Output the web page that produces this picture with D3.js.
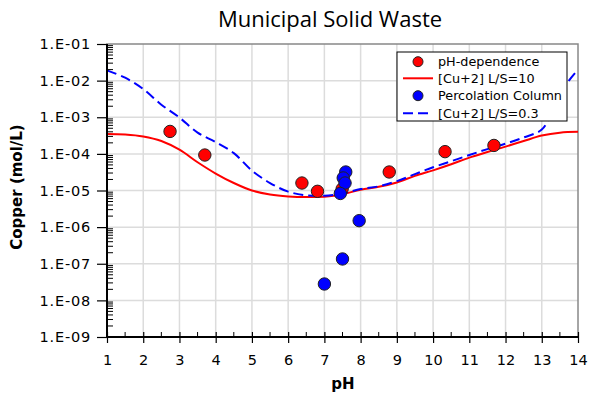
<!DOCTYPE html>
<html><head><meta charset="utf-8">
<script src="https://cdn.jsdelivr.net/npm/d3@7"></script>
<style>body{margin:0;background:#fff}svg{display:block}</style>
</head><body>
<script>
// ---- data ----
const phDepPH  = [2.74, 3.70, 6.38, 6.81, 7.49, 8.79, 10.33, 11.68];
const phDepCu  = [4.1e-4, 9.3e-5, 1.6e-5, 9.5e-6, 1.1e-5, 3.2e-5, 1.15e-4, 1.7e-4];
const percPH   = [7.59, 7.52, 7.57, 7.44, 7.96, 7.50, 7.00];
const percCu   = [3.2e-5, 2.2e-5, 1.6e-5, 8.3e-6, 1.5e-6, 1.35e-7, 2.8e-8];
const curvePH10 = [1, 1.5, 2, 2.5, 3, 3.5, 4, 4.5, 5, 5.5, 6, 6.5, 7, 7.5, 8, 8.5, 9, 9.5, 10, 10.5, 11, 11.5, 12, 12.5, 13, 13.5, 14];
const curveCu10 = [3.5e-4, 3.4e-4, 3.0e-4, 2.25e-4, 1.3e-4, 5.9e-5, 2.9e-5, 1.6e-5, 1.0e-5, 7.8e-6, 6.9e-6, 6.6e-6, 6.8e-6, 7.9e-6, 1.05e-5, 1.26e-5, 1.66e-5, 2.5e-5, 3.55e-5, 5.2e-5, 7.9e-5, 1.12e-4, 1.58e-4, 2.24e-4, 3.16e-4, 3.8e-4, 4.0e-4];
const curvePH03 = [1, 1.5, 2, 2.5, 3, 3.5, 4, 4.5, 5, 5.5, 6, 6.5, 7, 7.5, 8, 8.5, 9, 9.5, 10, 10.5, 11, 11.5, 12, 12.5, 13, 13.25, 13.5, 13.75, 14];
const curveCu03 = [1.9e-2, 1.2e-2, 5.9e-3, 2.2e-3, 9.8e-4, 3.8e-4, 2.1e-4, 1.05e-4, 3.5e-5, 1.6e-5, 9.3e-6, 7.4e-6, 7.2e-6, 8.3e-6, 1.1e-5, 1.3e-5, 1.8e-5, 2.8e-5, 4.3e-5, 6.3e-5, 9.3e-5, 1.35e-4, 1.9e-4, 2.8e-4, 4.6e-4, 1.2e-3, 3.8e-3, 1.0e-2, 2.0e-2];
const xTicks = [1,2,3,4,5,6,7,8,9,10,11,12,13,14];
const yTicks = [1e-9,1e-8,1e-7,1e-6,1e-5,1e-4,1e-3,1e-2,1e-1];
const yTickLabels = ["1.E-09","1.E-08","1.E-07","1.E-06","1.E-05","1.E-04","1.E-03","1.E-02","1.E-01"];
const legendLabels = ["pH-dependence","[Cu+2] L/S=10","Percolation Column","[Cu+2] L/S=0.3"];

// ---- layout ----
const W = 590, H = 400;
const L = 107, R = 578, T = 44, B = 337;
const font = "'DejaVu Sans', Verdana, sans-serif";

const svg = d3.select("body").append("svg").attr("width", W).attr("height", H);
const x = d3.scaleLinear().domain([1,14]).range([L,R]);
const y = d3.scaleLog().domain([1e-9,1e-1]).range([B,T]);

// grid
const g = svg.append("g");
g.selectAll(".vg").data(xTicks.slice(1,-1)).enter().append("line")
  .attr("x1", d=>x(d)).attr("x2", d=>x(d)).attr("y1", T).attr("y2", B)
  .attr("stroke", "#dcdcdc").attr("stroke-width", 1.5);
g.selectAll(".hg").data(yTicks.slice(1,-1)).enter().append("line")
  .attr("x1", L).attr("x2", R).attr("y1", d=>y(d)).attr("y2", d=>y(d))
  .attr("stroke", "#dcdcdc").attr("stroke-width", 1.5);
// plot border
svg.append("rect").attr("x", L).attr("y", T).attr("width", R-L).attr("height", B-T)
  .attr("fill", "none").attr("stroke", "#888").attr("stroke-width", 1.5);

// curves
const line = d3.line().x(d=>x(d[0])).y(d=>y(d[1])).curve(d3.curveCatmullRom.alpha(0.5));
const c10 = curvePH10.map((p,i)=>[p, curveCu10[i]]);
const c03 = curvePH03.map((p,i)=>[p, curveCu03[i]]);
svg.append("path").datum(c10).attr("d", line).attr("fill","none")
  .attr("stroke","#ff0000").attr("stroke-width",2);
svg.append("path").datum(c03).attr("d", line).attr("fill","none")
  .attr("stroke","#0000ff").attr("stroke-width",2).attr("stroke-dasharray","10,5");

// points
svg.selectAll(".pd").data(phDepPH.map((p,i)=>[p,phDepCu[i]])).enter().append("circle")
  .attr("cx", d=>x(d[0])).attr("cy", d=>y(d[1])).attr("r", 6.2)
  .attr("fill","#ff0000").attr("stroke","#222").attr("stroke-width",1);
svg.selectAll(".pc").data(percPH.map((p,i)=>[p,percCu[i]])).enter().append("circle")
  .attr("cx", d=>x(d[0])).attr("cy", d=>y(d[1])).attr("r", 6.2)
  .attr("fill","#0000ff").attr("stroke","#222").attr("stroke-width",1);

// axes
const yAxis = d3.axisLeft(y).tickValues(yTicks).tickFormat((d,i)=>yTickLabels[i]).tickSize(10).tickPadding(6);
const ya = svg.append("g").attr("transform", `translate(${L},0)`).call(yAxis);
ya.select(".domain").remove();
ya.selectAll(".tick line").attr("stroke","#000").attr("stroke-width",1.2);
ya.selectAll("text").attr("font-family", font).attr("font-size", 14.5).attr("fill","#000").attr("letter-spacing", 0.8);
// y minor ticks inside
const minor = [];
for (let e=-9; e<-1+0.1; e++) for (let k=2;k<=9;k++) minor.push(k*Math.pow(10,e));
svg.selectAll(".ym").data(minor.filter(v=>v<1e-1)).enter().append("line")
  .attr("x1", L).attr("x2", L+6).attr("y1", d=>y(d)).attr("y2", d=>y(d))
  .attr("stroke","#000").attr("stroke-width",1);
svg.append("line").attr("x1",L).attr("x2",L).attr("y1",T).attr("y2",B+1).attr("stroke","#000").attr("stroke-width",2);

const xAxis = d3.axisBottom(x).tickValues(xTicks).tickFormat(d3.format("d")).tickSize(6).tickPadding(12);
const xa = svg.append("g").attr("transform", `translate(0,${B})`).call(xAxis);
xa.select(".domain").remove();
xa.selectAll(".tick line").attr("y1",-5).attr("stroke","#000").attr("stroke-width",1.2);
xa.selectAll("text").attr("font-family", font).attr("font-size", 14.5).attr("fill","#000");
const xMinor = xTicks.slice(0,-1).map(d=>d+0.5);
svg.selectAll(".xm").data(xMinor).enter().append("line")
  .attr("x1", d=>x(d)).attr("x2", d=>x(d)).attr("y1", B-5).attr("y2", B)
  .attr("stroke","#000").attr("stroke-width",1);
svg.append("line").attr("x1",L-1).attr("x2",R).attr("y1",B).attr("y2",B).attr("stroke","#000").attr("stroke-width",2);

// titles
svg.append("text").attr("x", 330).attr("y", 27).attr("text-anchor","middle")
  .attr("font-family","'Open Sans', 'Noto Sans', sans-serif").attr("font-size", 22).text("Municipal Solid Waste");
svg.append("text").attr("x", 343).attr("y", 389).attr("text-anchor","middle")
  .attr("font-family", font).attr("font-size", 15).attr("font-weight","bold").text("pH");
svg.append("text").attr("transform", "translate(22,187) rotate(-90)").attr("text-anchor","middle")
  .attr("font-family", font).attr("font-size", 15).attr("font-weight","bold").text("Copper (mol/L)");

// legend
const lg = svg.append("g");
lg.append("rect").attr("x",397).attr("y",52).attr("width",170).attr("height",69)
  .attr("fill","#fff").attr("stroke","#000").attr("stroke-width",1);
const ly = [61.7, 78.3, 95.7, 113.3];
legendLabels.forEach((t,i)=>{
  const yy = ly[i];
  if (i===0 || i===2) {
    lg.append("circle").attr("cx",418).attr("cy",yy).attr("r",5)
      .attr("fill", i===0 ? "#ff0000" : "#0000ff").attr("stroke","#222").attr("stroke-width",1);
  } else {
    lg.append("line").attr("x1",403).attr("x2",433).attr("y1",yy).attr("y2",yy)
      .attr("stroke", i===1 ? "#ff0000" : "#0000ff").attr("stroke-width",2)
      .attr("stroke-dasharray", i===3 ? "10,5" : null);
  }
  lg.append("text").attr("x",438).attr("y",yy+4.5).attr("font-family",font).attr("font-size",12.8)
    .attr("fill","#000").text(t);
});
</script>
</body></html>
